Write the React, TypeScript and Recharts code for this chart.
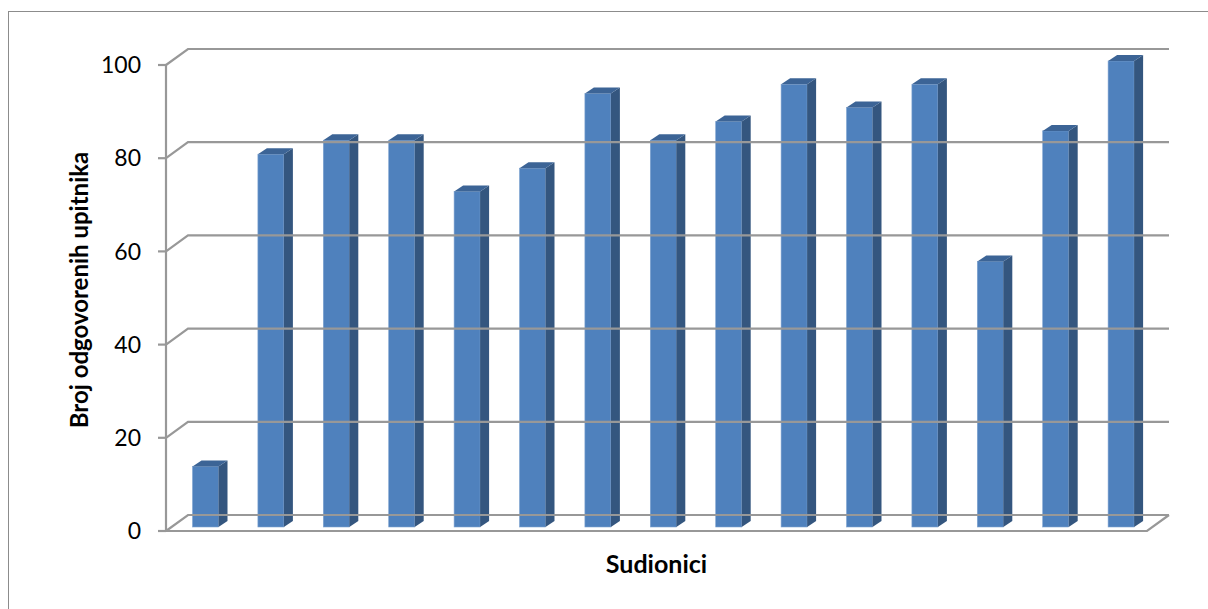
import React from "react"
import { BarChart, Bar, XAxis, YAxis, ReferenceLine } from "recharts"

const categories = ["1", "2", "3", "4", "5", "6", "7", "8", "9", "10", "11", "12", "13", "14", "15"]
const answered = [13, 80, 83, 83, 72, 77, 93, 83, 87, 95, 90, 95, 57, 85, 100]
const yTicks = [0, 20, 40, 60, 80, 100]

const data = categories.map((name, i) => ({ name, value: answered[i] }))

// depth of the back wall and of the bars, in pixels
const WALL_DX = 22
const WALL_DY = 16
const BAR_DX = 9
const BAR_DY = 6
const GRID = "#989898"

const Bar3D = (props: any) => {
  const { x, y, width, height } = props
  const fx = x + 6.5
  const fy = y - 4
  const bottom = fy + height
  const r = fx + width
  return (
    <g>
      <rect x={fx} y={fy} width={width} height={height} fill="#4f81bd" stroke="#7fa3d0" strokeWidth={0.6} />
      <polygon
        points={`${r},${fy} ${r + BAR_DX},${fy - BAR_DY} ${r + BAR_DX},${bottom - BAR_DY} ${r},${bottom}`}
        fill="#34567f"
      />
      <polygon
        points={`${fx},${fy} ${fx + BAR_DX},${fy - BAR_DY} ${r + BAR_DX},${fy - BAR_DY} ${r},${fy}`}
        fill="#3c6496"
      />
    </g>
  )
}

const WallLine = (props: any) => {
  const { x1, x2, y1, floor } = props
  const by = y1 - WALL_DY
  return (
    <g fill="none" stroke={GRID} strokeWidth={2.2}>
      <path d={`M${x1},${y1} L${x1 + WALL_DX},${by} L${x2 + WALL_DX},${by}`} />
      {floor && <path d={`M${x1},${y1} L${x2},${y1} L${x2 + WALL_DX},${by}`} />}
    </g>
  )
}

const YTitle = (props: any) => {
  const { viewBox } = props
  const cx = viewBox.x + 78
  const cy = viewBox.y + viewBox.height / 2 - 8
  return (
    <text
      x={cx}
      y={cy}
      transform={`rotate(-90, ${cx}, ${cy})`}
      textAnchor="middle"
      dominantBaseline="central"
      fontFamily="Lato"
      fontWeight="bold"
      fontSize={24}
      fill="#000"
    >
      Broj odgovorenih upitnika
    </text>
  )
}

const XTitle = (props: any) => {
  const { viewBox } = props
  return (
    <text
      x={viewBox.x + viewBox.width / 2}
      y={viewBox.y + 32}
      textAnchor="middle"
      dominantBaseline="central"
      fontFamily="Lato"
      fontWeight="bold"
      fontSize={25}
      fill="#000"
    >
      Sudionici
    </text>
  )
}

export default function App() {
  return (
    <div style={{ position: "absolute", left: 0, top: 0, width: 1208, height: 609, overflow: "hidden", background: "#fff" }}>
      <div
        style={{
          position: "absolute",
          left: 8,
          top: 11,
          width: 1240,
          height: 640,
          border: "1.5px solid #8c8c8c",
        }}
      />
      <div style={{ position: "absolute", left: 0, top: 0 }}>
        <BarChart
          width={1208}
          height={609}
          data={data}
          margin={{ top: 65, right: 61, bottom: 0, left: 0 }}
          style={{ fontFamily: "Lato" }}
        >
          <XAxis
            dataKey="name"
            height={78}
            tick={false}
            axisLine={false}
            tickLine={false}
            label={<XTitle />}
          />
          <YAxis
            width={166}
            domain={[0, 100]}
            ticks={yTicks}
            interval={0}
            tickSize={8}
            tickMargin={17}
            axisLine={{ stroke: GRID, strokeWidth: 2.2 }}
            tickLine={{ stroke: GRID, strokeWidth: 2.2 }}
            tick={{ fill: "#000", fontSize: 23, fontFamily: "Lato" }}
            label={<YTitle />}
          />
          {yTicks.map((v) => (
            <ReferenceLine
              key={v}
              y={v}
              ifOverflow="visible"
              shape={(p: any) => <WallLine {...p} floor={v === 0} />}
            />
          ))}
          <Bar dataKey="value" barSize={26} shape={<Bar3D />} isAnimationActive={false} />
        </BarChart>
      </div>
    </div>
  )
}
